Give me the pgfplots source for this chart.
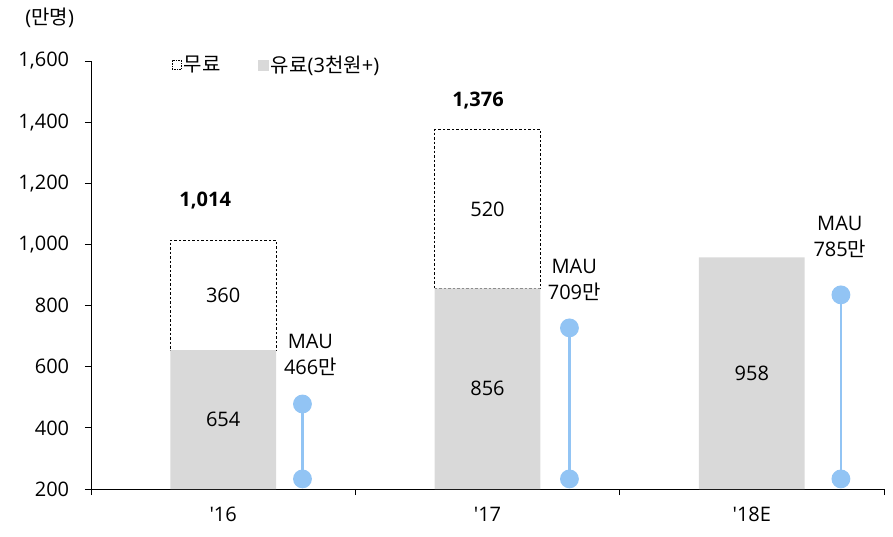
\documentclass[border=0pt]{standalone}
\usepackage{fontspec}
\setmainfont{Open Sans}
\newfontfamily\kr{Noto Sans CJK KR}
\usepackage{pgfplots}
\pgfplotsset{compat=1.18}
\definecolor{paid}{RGB}{217,217,217}
\definecolor{mau}{RGB}{146,196,244}
\begin{document}
\fontsize{20}{26}\selectfont
\begin{tikzpicture}[x=1pt,y=1pt]
\path (-91,-47) rectangle (802,489);
\begin{axis}[
  at={(0,0)}, anchor=south west,
  scale only axis, width=793pt, height=428pt,
  xmin=-0.5, xmax=2.5, ymin=200, ymax=1600,
  axis x line*=bottom, axis y line*=left,
  axis line style={black, line width=0.8pt},
  xtick={0,1,2}, xticklabels={\textquotesingle16,\textquotesingle17,\textquotesingle18E},
  minor xtick={-0.5,0.5,1.5,2.5},
  major x tick style={draw=none},
  minor x tick style={black, line width=0.8pt},
  minor tick length=6pt,
  ytick={200,400,...,1600},
  y tick style={black, line width=0.8pt},
  major tick length=6pt,
  tick align=outside,
  /pgf/number format/assume math mode=true,
  /pgf/number format/1000 sep={,},
  yticklabel style={xshift=-9pt},
  xticklabel style={yshift=-5pt},
  ybar stacked, bar width=0.4,
  legend style={at={(rel axis cs:0.102,0.99)}, anchor=west, draw=none, fill=none,
    legend columns=2, /tikz/every even column/.append style={column sep=36pt},
    font=\fontsize{20}{22}\selectfont, inner sep=0pt},
  legend cell align=left,
]
\addlegendimage{legend image code/.code={\draw[black,dash pattern=on 1.5pt off 1pt,line width=0.6pt,fill=white] (0pt,-4.5pt) rectangle (9pt,4.5pt);}}
\addlegendentry{{\kr 무료}}
\addlegendimage{legend image code/.code={\fill[paid] (0pt,-5pt) rectangle (10pt,5pt);}}
\addlegendentry{{\kr 유료}(3{\kr 천원}+)}
\addplot[fill=paid, draw=none] coordinates {(0,654) (1,856) (2,958)};
\addplot[fill=white, draw=black, dash pattern=on 2.5pt off 2pt, line width=0.7pt] coordinates {(0,360) (1,520)};
\end{axis}
\begin{axis}[
  at={(0,0)}, anchor=south west,
  scale only axis, width=793pt, height=428pt,
  xmin=-0.5, xmax=2.5, ymin=200, ymax=1600,
  hide axis, clip=false,
]
\addplot[mau, line width=2.8pt, mark=*, mark size=8pt, mark options={fill=mau, draw=none}] coordinates {(0.30,233) (0.30,478)};
\addplot[mau, line width=2.8pt, mark=*, mark size=8pt, mark options={fill=mau, draw=none}] coordinates {(1.31,233) (1.31,727)};
\addplot[mau, line width=2.8pt, mark=*, mark size=8pt, mark options={fill=mau, draw=none}] coordinates {(2.337,233) (2.337,835)};
\node at (axis cs:0,427) {654};
\node at (axis cs:0,834) {360};
\node at (axis cs:1,528) {856};
\node at (axis cs:1,1116) {520};
\node at (axis cs:2,579) {958};
\node[font=\bfseries] at (axis cs:-0.068,1142) {1,014};
\node[font=\bfseries] at (axis cs:0.964,1472) {1,376};
\node[align=center] at (axis cs:0.33,638) {MAU\\466{\kr 만}};
\node[align=center] at (axis cs:1.328,884) {MAU\\709{\kr 만}};
\node[align=center] at (axis cs:2.333,1024) {MAU\\785{\kr 만}};
\node at (axis description cs:-0.052,1.10) {({\kr 만명})};
\end{axis}
\end{tikzpicture}
\end{document}
